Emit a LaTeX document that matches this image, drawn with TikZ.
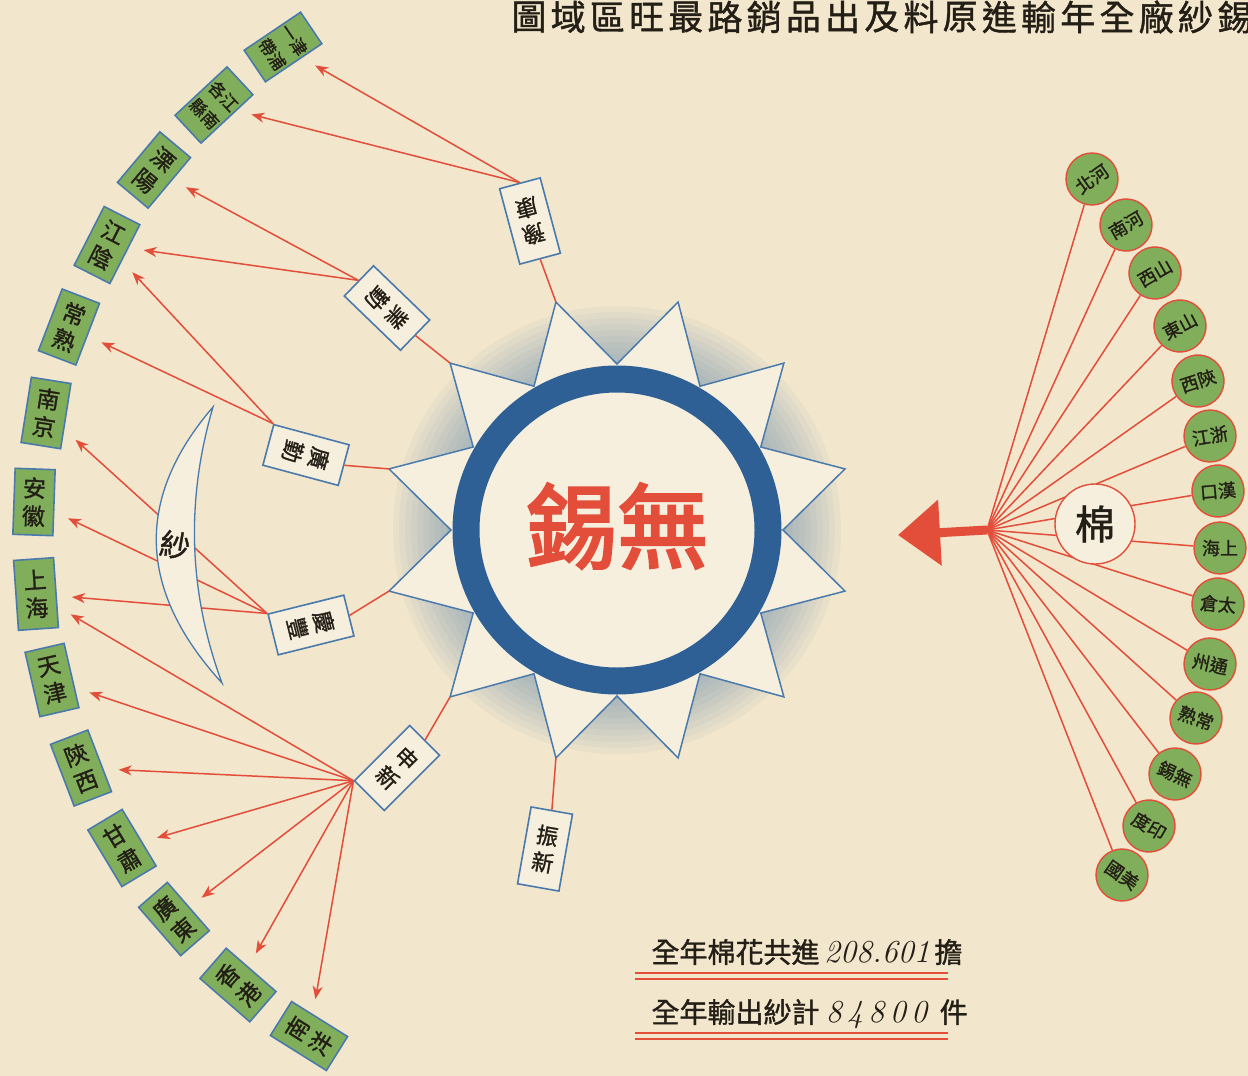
\documentclass[tikz,border=0pt]{standalone}
\usepackage{fontspec}
\usepackage{graphicx}
\usetikzlibrary{arrows.meta,calc}
\newfontfamily\cjk{Noto Sans CJK TC}
\newfontfamily\cjkbold[FakeBold=1.2]{Noto Sans CJK TC}
\newfontfamily\cjkheavy[FakeBold=3]{Noto Sans CJK TC}
\definecolor{paper}{RGB}{242,230,204}
\definecolor{paperlt}{RGB}{247,239,221}
\definecolor{mapgreen}{RGB}{128,174,90}
\definecolor{mapblue}{RGB}{74,122,172}
\definecolor{ringblue}{RGB}{46,96,150}
\definecolor{mapred}{RGB}{226,78,58}
\definecolor{ink}{RGB}{35,30,22}

\begin{document}
\begin{tikzpicture}[x=1pt,y=-1pt,every node/.style={font=\cjk,text=ink},
    millbox/.style={draw=mapblue,line width=1.6pt,fill=paperlt,minimum width=42pt,
                    minimum height=78pt,inner sep=1pt,align=center,
                    font=\cjkbold\fontsize{22}{27}\selectfont},
    destbox/.style={draw=mapblue,line width=1.6pt,fill=mapgreen,minimum width=40pt,
                    minimum height=66pt,inner sep=1pt,align=center,
                    font=\cjkbold\fontsize{23}{28}\selectfont},
    srcdot/.style={circle,draw=mapred,line width=1.4pt,fill=mapgreen,minimum size=52pt,
                   inner sep=0pt,font=\cjkbold\fontsize{18}{18}\selectfont},
    feed/.style={mapred,line width=1.5pt},
    yarn/.style={feed,-{Stealth[length=13pt,width=10pt,inset=4pt]},shorten >=15pt}]
  \fill[paper] (0,0) rectangle (1248,1076);
  \useasboundingbox (0,0) rectangle (1248,1076);

  % title, printed right to left
  \foreach \glyph [count=\i] in {圖,域,區,旺,最,路,銷,品,出,及,料,原,進,輸,年,全,廠,紗,錫}
    \node[font=\cjkbold\fontsize{35}{35}\selectfont] (title\i) at ({529+39.2*(\i-1)},17) {\glyph};

  % star with the town ring
  \begin{scope}[shift={(617,530)}]
    \foreach \r in {170,176,...,228}
      \fill[mapblue,opacity=0.05] (0,0) circle (\r);
    \draw[mapblue,line width=1.5pt,fill=paperlt] (0:166)
      \foreach \k in {0,...,11} {-- ({15+30*\k}:236) -- ({30+30*\k}:166)} -- cycle;
    \foreach \k in {0,...,11}
      \coordinate (tip\k) at ({15+30*\k}:236);
    \draw[ringblue,line width=27pt] (0,0) circle (151);
    \node[font=\cjkheavy\fontsize{92}{92}\selectfont,text=mapred] (town) at (0,-4) {錫無};
  \end{scope}

  % mills
  \node[millbox,rotate=-165] (yukang)   at (530,221) {豫\\康};
  \node[millbox,rotate=-134] (yeqin)    at (387,308) {業\\勤};
  \node[millbox,rotate=-105] (guangqin) at (306,455) {廣\\勤};
  \node[millbox,rotate=-76]  (qingfeng) at (311,625) {慶\\豐};
  \node[millbox,rotate=-45]  (shenxin)  at (397,768) {申\\新};
  \node[millbox,rotate=-10]  (zhenxin)  at (545,849) {振\\新};
  \draw[feed] (yukang.north)   -- (tip8);
  \draw[feed] (yeqin.north)    -- (tip7);
  \draw[feed] (guangqin.north) -- (tip6);
  \draw[feed] (qingfeng.north) -- (tip5);
  \draw[feed] (shenxin.north)  -- (tip4);
  \draw[feed] (zhenxin.north)  -- (tip3);

  % yarn markets
  \node[destbox,rotate=-56,minimum width=38pt,minimum height=68pt,
        font=\cjkbold\fontsize{17}{26}\selectfont] (jinpu) at (283,47) {一津\\帶浦};
  \node[destbox,rotate=-47,minimum width=38pt,minimum height=71pt,
        font=\cjkbold\fontsize{17}{26}\selectfont] (jiangnan) at (214,105) {各江\\縣南};
  \node[destbox,rotate=-40] (liyang)    at (154,170)  {溧\\陽};
  \node[destbox,rotate=-27] (jiangyin)  at (107,245)  {江\\陰};
  \node[destbox,rotate=-21] (changshu)  at (69,327)   {常\\熟};
  \node[destbox,rotate=-9]  (nanjing)   at (46,413)   {南\\京};
  \node[destbox,rotate=-2]  (anhui)     at (34,502)   {安\\徽};
  \node[destbox,rotate=4,minimum height=70pt] (shanghai) at (36,594) {上\\海};
  \node[destbox,rotate=13]  (tianjin)   at (52,680)   {天\\津};
  \node[destbox,rotate=21]  (shaanxi)   at (81,768)   {陝\\西};
  \node[destbox,rotate=31]  (gansu)     at (122,848)  {甘\\肅};
  \node[destbox,rotate=41,minimum width=38pt,minimum height=64pt] (guangdong) at (174,919) {廣\\東};
  \node[destbox,rotate=49]  (xianggang) at (238,985)  {香\\港};
  \node[destbox,rotate=58]  (nanyang)   at (309,1036) {南\\洋};

  \draw[yarn] (yukang.south) -- (jinpu);
  \draw[yarn] (yukang.south) -- (jiangnan);
  \draw[yarn] (yeqin.south) -- (liyang);
  \draw[yarn] (yeqin.south) -- (jiangyin);
  \draw[yarn] (guangqin.south west) -- (jiangyin);
  \draw[yarn] (guangqin.south west) -- (changshu);
  \draw[yarn] (qingfeng.south west) -- (nanjing);
  \draw[yarn] (qingfeng.south west) -- (anhui);
  \draw[yarn] (qingfeng.south west) -- (shanghai);
  \foreach \m in {shanghai,tianjin,shaanxi,gansu,guangdong,xianggang,nanyang}
    \draw[yarn] (shenxin.south west) -- (\m);

  % yarn crescent
  \draw[mapblue,line width=1.3pt,fill=paperlt] (213,407)
    .. controls (134,499) and (138,591) .. (222,683)
    .. controls (188,591) and (186,499) .. (213,407) -- cycle;
  \node[font=\cjkbold\fontsize{30}{30}\selectfont,rotate=-10] (yarn) at (175,545) {紗};

  % cotton sources
  \node[srcdot,rotate=35]  (s-hebei)    at (1092,179) {北河};
  \node[srcdot,rotate=30]  (s-henan)    at (1126,225) {南河};
  \node[srcdot,rotate=30]  (s-shanxi)   at (1155,273) {西山};
  \node[srcdot,rotate=28]  (s-shandong) at (1180,326) {東山};
  \node[srcdot,rotate=18]  (s-shaanxi)  at (1198,381) {西陝};
  \node[srcdot,rotate=10]  (s-zhejiang) at (1210,436) {江浙};
  \node[srcdot,rotate=5]   (s-hankou)   at (1218,491) {口漢};
  \node[srcdot]            (s-shanghai) at (1220,548) {海上};
  \node[srcdot,rotate=-5]  (s-taicang)  at (1218,604) {倉太};
  \node[srcdot,rotate=-12] (s-tongzhou) at (1210,664) {州通};
  \node[srcdot,rotate=-20] (s-changshu) at (1196,718) {熟常};
  \node[srcdot,rotate=-25] (s-wuxi)     at (1175,774) {錫無};
  \node[srcdot,rotate=-30] (s-india)    at (1149,826) {度印};
  \node[srcdot,rotate=-35] (s-usa)      at (1122,875) {國美};
  \coordinate (fan) at (987,530);
  \coordinate (cotton) at (898,535);
  \foreach \s in {hebei,henan,shanxi,shandong,shaanxi,zhejiang,hankou,shanghai,
                  taicang,tongzhou,changshu,wuxi,india,usa}
    \draw[feed] (fan) -- (s-\s);
  \node[circle,draw=mapred,line width=1.4pt,fill=paperlt,minimum size=80pt,inner sep=0pt,
        font=\cjkbold\fontsize{40}{40}\selectfont] (mian) at (1095,524) {棉};
  \draw[mapred,line width=9pt,-{Triangle[length=42pt,width=64pt]}] (fan) -- (cotton);

  % yearly totals
  \node[anchor=west,font=\cjkbold\fontsize{28}{28}\selectfont] (cottonsum) at (648,952)
    {全年棉花共進\,{\rmfamily\itshape\fontsize{32}{32}\selectfont 208.601}\,擔};
  \node[anchor=west,font=\cjkbold\fontsize{28}{28}\selectfont] (yarnsum) at (648,1014)
    {全年輸出紗計\ {\rmfamily\itshape\fontsize{32}{32}\selectfont 8\,4\,8\,0\,0}\ \ 件};
  \draw[mapred,line width=2pt] (635,973) -- (948,973) (635,979) -- (948,979);
  \draw[mapred,line width=2pt] (635,1033) -- (948,1033) (635,1039) -- (948,1039);
\end{tikzpicture}
\end{document}
